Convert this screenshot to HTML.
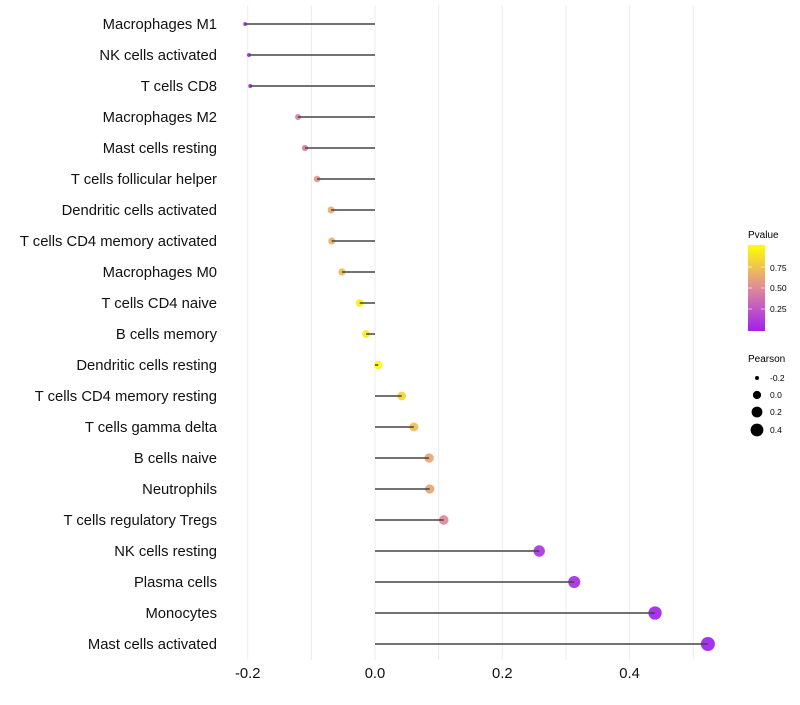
<!DOCTYPE html>
<html><head><meta charset="utf-8"><style>
body{margin:0;background:#fff;}
svg text{font-family:"Liberation Sans",Arial,sans-serif;}
</style></head><body>
<svg id="chart" width="800" height="700">
<g id="grid"></g>
<g id="marks"></g>
<g id="ylabels"></g>
<g id="xlabels"></g>
<g>
<defs><linearGradient id="pg" x1="0" y1="1" x2="0" y2="0">
<stop offset="0" stop-color="#A020F0"/><stop offset="0.5" stop-color="#E08A9A"/><stop offset="1" stop-color="#FFFF00"/></linearGradient></defs>
<text x="748" y="238" font-size="10">Pvalue</text>
<rect x="748" y="245" width="17" height="86" fill="url(#pg)"/>
<line x1="748" y1="267" x2="752" y2="267" stroke="#fff" opacity="0.6"/><line x1="761" y1="267" x2="765" y2="267" stroke="#fff" opacity="0.6"/>
<line x1="748" y1="288" x2="752" y2="288" stroke="#fff" opacity="0.6"/><line x1="761" y1="288" x2="765" y2="288" stroke="#fff" opacity="0.6"/>
<line x1="748" y1="309" x2="752" y2="309" stroke="#fff" opacity="0.6"/><line x1="761" y1="309" x2="765" y2="309" stroke="#fff" opacity="0.6"/>
<text x="770" y="271" font-size="8.5">0.75</text>
<text x="770" y="291" font-size="8.5">0.50</text>
<text x="770" y="312" font-size="8.5">0.25</text>
</g>
<g>
<text x="748" y="362" font-size="10">Pearson</text>
<circle cx="757" cy="378" r="2" fill="#000"/><text x="770" y="381" font-size="8.5">-0.2</text>
<circle cx="757" cy="395" r="4.1" fill="#000"/><text x="770" y="398" font-size="8.5">0.0</text>
<circle cx="757" cy="412" r="5.4" fill="#000"/><text x="770" y="415" font-size="8.5">0.2</text>
<circle cx="757" cy="430" r="6.4" fill="#000"/><text x="770" y="433" font-size="8.5">0.4</text>
</g>
</svg>
<script>
const cells=["Macrophages M1","NK cells activated","T cells CD8","Macrophages M2","Mast cells resting","T cells follicular helper","Dendritic cells activated","T cells CD4 memory activated","Macrophages M0","T cells CD4 naive","B cells memory","Dendritic cells resting","T cells CD4 memory resting","T cells gamma delta","B cells naive","Neutrophils","T cells regulatory  Tregs ","NK cells resting","Plasma cells","Monocytes","Mast cells activated"];
const pearson=[-0.204,-0.198,-0.196,-0.121,-0.110,-0.091,-0.069,-0.068,-0.052,-0.024,-0.014,0.005,0.042,0.061,0.085,0.086,0.108,0.258,0.313,0.440,0.523];
const pvalue=[0.05,0.06,0.07,0.45,0.45,0.55,0.65,0.66,0.72,0.93,0.92,0.98,0.82,0.72,0.62,0.62,0.5,0.1,0.05,0.02,0.01];
const xTicks=[-0.2,0,0.2,0.4];
const xTickLabels=["-0.2","0.0","0.2","0.4"];
const ns="http://www.w3.org/2000/svg";
const X=v=>375+v*636.5;
const Y=i=>24+i*31;
const R=v=>Math.sqrt(Math.max(1,4+62.5*(v+0.2)));
function col(p){
  const a=[160,32,240],m=[224,138,154],b=[255,255,0];
  let c0,c1,t;
  if(p<0.5){c0=a;c1=m;t=p/0.5;}else{c0=m;c1=b;t=(p-0.5)/0.5;}
  return "rgb("+c0.map((c,k)=>Math.round(c+(c1[k]-c)*t)).join(",")+")";
}
function mk(tag,attrs,parent){const e=document.createElementNS(ns,tag);for(const k in attrs)e.setAttribute(k,attrs[k]);parent.appendChild(e);return e;}
const grid=document.getElementById("grid"),marks=document.getElementById("marks"),yl=document.getElementById("ylabels"),xl=document.getElementById("xlabels");
for(let k=-2;k<=5;k++){
  const v=k/10;
  const g=mk("line",{x1:X(v),x2:X(v),y1:5,y2:660,stroke:"#ececec","stroke-width":1},grid);
  
  
}
cells.forEach((c,i)=>{
  const y=Y(i);
  const pt=mk("circle",{cx:X(pearson[i]),cy:y,r:R(pearson[i]),fill:col(pvalue[i]),opacity:0.92},marks);
  
  
  const ln=mk("line",{x1:X(0),x2:X(pearson[i]),y1:y,y2:y,stroke:"#444","stroke-width":1.5},marks);
  
  
  const t=mk("text",{x:217,y:y+5,"text-anchor":"end","font-size":14.8,fill:"#111"},yl);
  t.textContent=c;
  
  
});
xTicks.forEach((v,i)=>{
  const t=mk("text",{x:X(v),y:678,"text-anchor":"middle","font-size":14.8,fill:"#111"},xl);
  t.textContent=xTickLabels[i];
  
  
});
</script>
</body></html>
